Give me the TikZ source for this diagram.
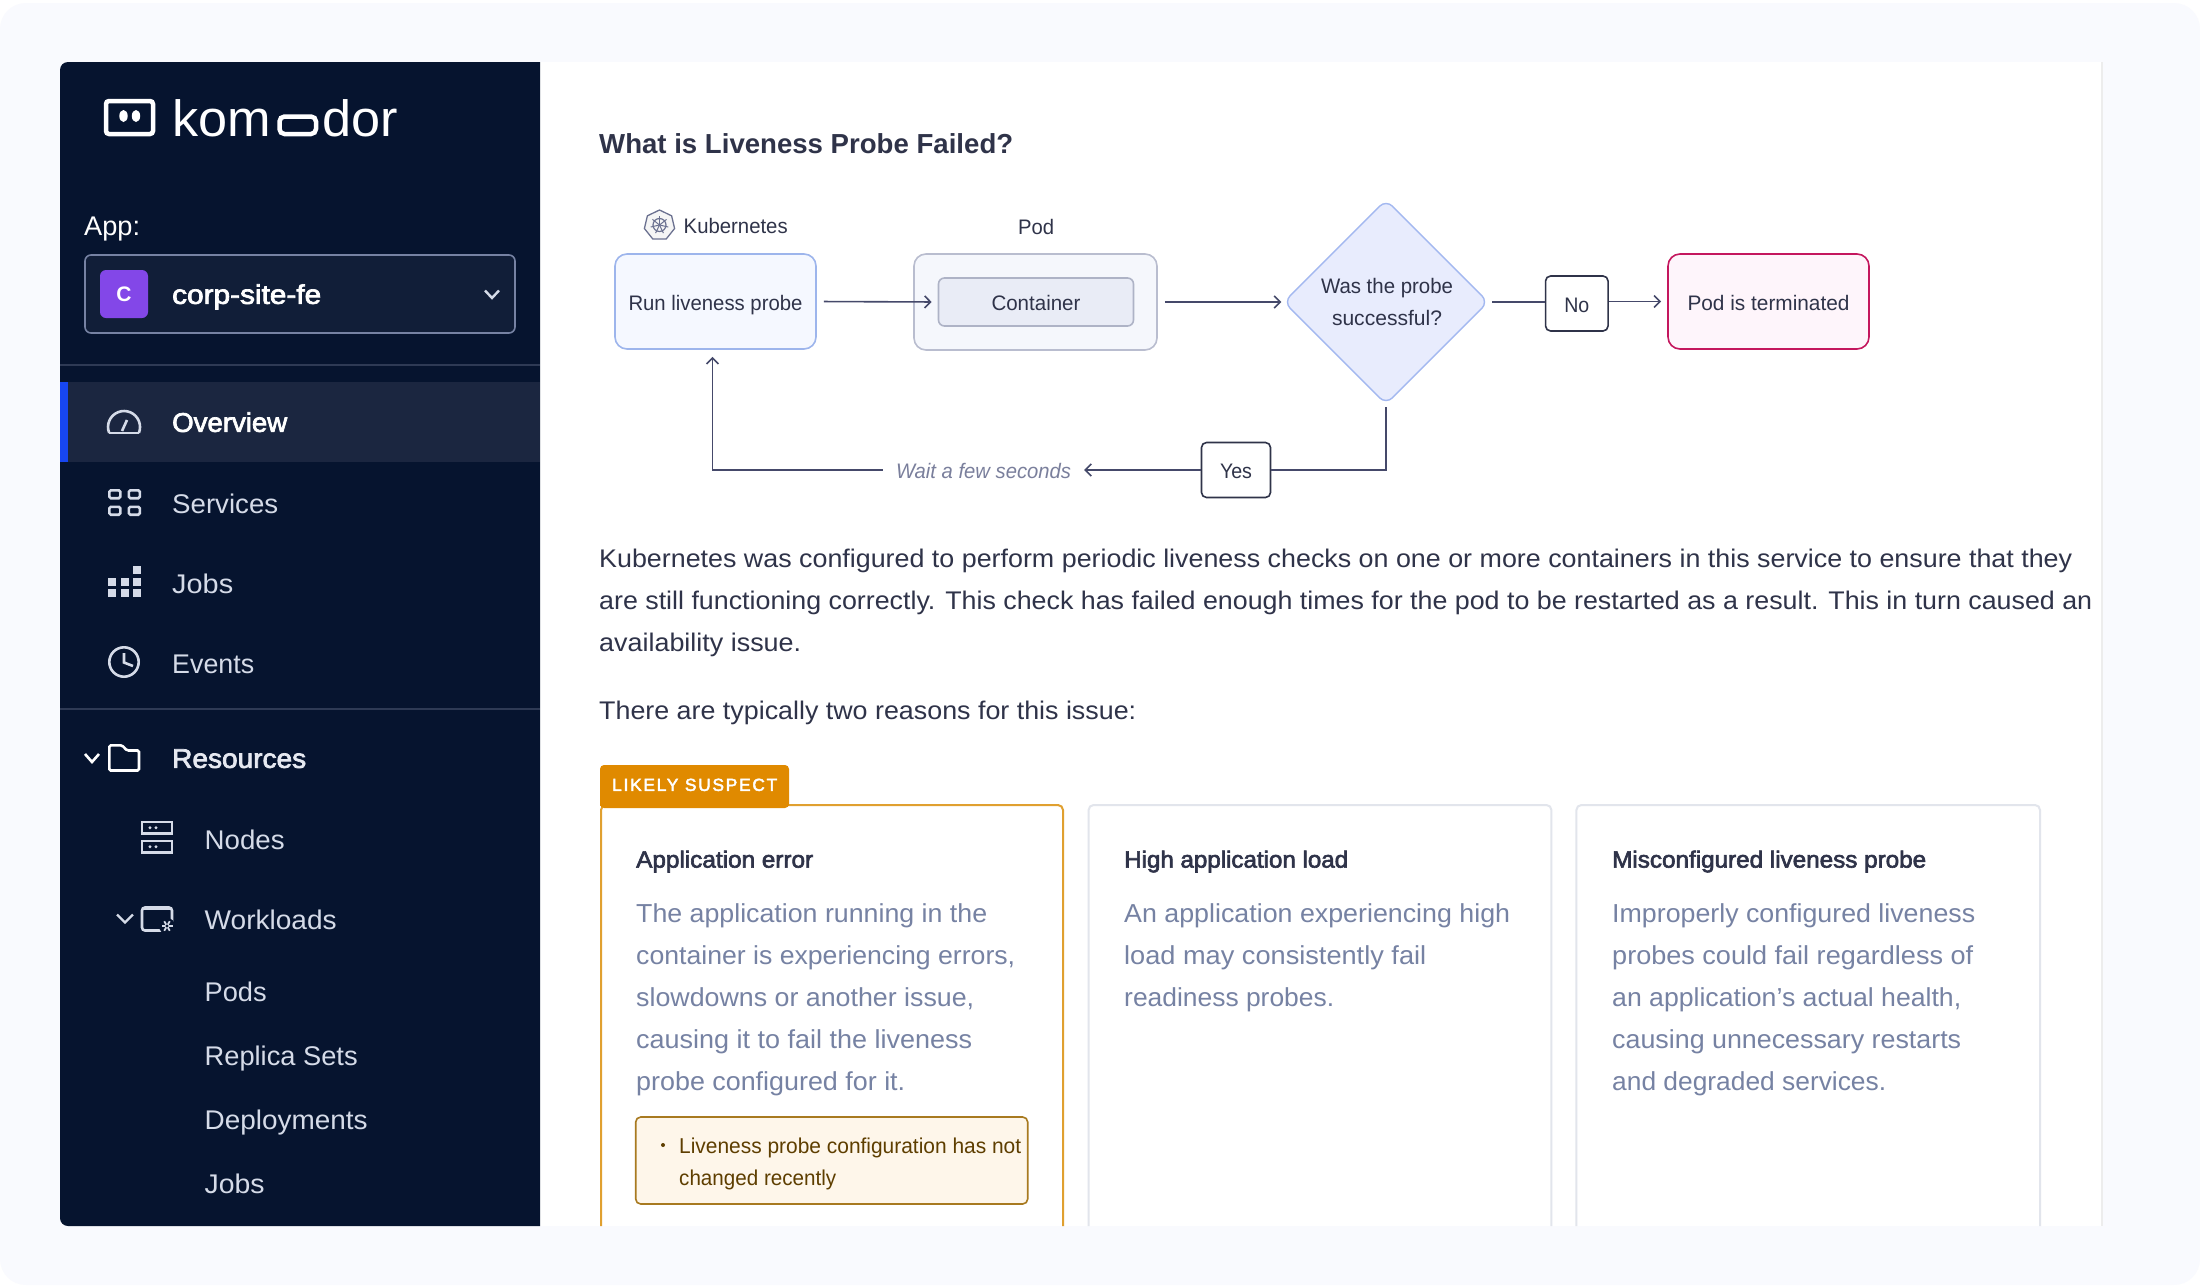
\documentclass[tikz,border=0pt]{standalone}
\usepackage{fontspec}
\usepackage{graphicx}
\setmainfont{Liberation Sans}
\newfontfamily\medium[FakeBold=2.6]{Liberation Sans}
\usetikzlibrary{arrows.meta,shapes.geometric}
\newcommand\fs[1]{\fontsize{#1}{#1}\selectfont}
\newcommand\st{\rule[-.22em]{0pt}{1.17em}}
\newcommand\fit[2]{\resizebox{#1pt}{\height}{\st #2}}
\newcommand\fitd[2]{\resizebox{#1pt}{\height}{\rule[-.22em]{0pt}{1.27em}#2}}
\definecolor{pagebg}{HTML}{F9FAFE}
\definecolor{side}{HTML}{06142F}
\definecolor{sideact}{HTML}{1B2640}
\definecolor{selbg}{HTML}{111E38}
\definecolor{sideline}{HTML}{2E3A55}
\definecolor{navtx}{HTML}{D5DBE8}
\definecolor{ink}{HTML}{2F3349}
\definecolor{line}{HTML}{45496A}
\definecolor{grey}{HTML}{7682A3}
\definecolor{amber}{HTML}{E08A00}
\definecolor{cborder}{HTML}{E0A030}
\definecolor{k8s}{HTML}{6B7190}
\definecolor{purplebadge}{HTML}{8347E8}
\definecolor{activebar}{HTML}{1746F0}
\definecolor{runbd}{HTML}{9DB5EC}
\definecolor{runbg}{HTML}{F5F8FF}
\definecolor{podbd}{HTML}{B9BDCF}
\definecolor{podbg}{HTML}{F5F7FC}
\definecolor{conbd}{HTML}{AEB3C6}
\definecolor{conbg}{HTML}{E9ECF6}
\definecolor{diabd}{HTML}{A3B8F0}
\definecolor{diabg}{HTML}{E8ECFD}
\definecolor{termbd}{HTML}{C4175E}
\definecolor{termbg}{HTML}{FEF5FB}
\definecolor{cardbd}{HTML}{E2E5EC}
\definecolor{notebd}{HTML}{A87A20}
\definecolor{notebg}{HTML}{FEF6EA}
\definecolor{notetx}{HTML}{5E3E00}
\definecolor{waittx}{HTML}{7A7F9C}
\tikzset{
  x=1pt,y=-1pt,
  tx/.style={inner sep=0,anchor=west},
  ctx/.style={inner sep=0,anchor=center},
  nav/.style={tx,text=navtx,font=\fs{27},yshift=-1.2pt},
  navb/.style={tx,text=white,font=\fs{27}\medium},
  icon/.style={draw=navtx,line width=2.6pt,fill=none},
  para/.style={tx,text=ink,font=\fs{25.5}},
  ctitle/.style={tx,text=ink,font=\fs{23.5}\medium},
  cbody/.style={tx,text=grey,font=\fs{26}},
  dlabel/.style={ctx,text=ink,font=\fs{21}},
  box/.style={draw,inner sep=0,rounded corners=12pt,line width=1.6pt,minimum width=201pt,minimum height=95pt,text=ink,font=\fs{21}},
  tagbox/.style={draw=ink,fill=white,inner sep=0,rounded corners=5pt,line width=1.6pt,text=ink,font=\fs{21}},
  conn/.style={draw=line,line width=1.6pt},
  arr/.style={conn,-{Straight Barb[length=6pt,width=12pt]}},
  card/.style={line width=2pt,rounded corners=5pt},
  notetext/.style={tx,text=notetx,font=\fs{21.5}},
}
\begin{document}
\begin{tikzpicture}
\useasboundingbox (0,0) rectangle (2200,1285);
\fill[white] (0,0) rectangle (2200,1285);
\fill[pagebg,rounded corners=26pt] (0,3) rectangle (2200,1285);
% main panel
\fill[white] (540,62) rectangle (2101,1226);
\fill[black!7] (2101,62) rectangle (2103,1226);
% sidebar
\fill[side] (540,62) -- (68,62) arc[start angle=90,end angle=180,radius=8pt] -- (60,1218) arc[start angle=180,end angle=270,radius=8pt] -- (540,1226) -- cycle;
% logo
\draw[white,line width=4.5pt,rounded corners=3pt] (106,101) rectangle (153,134);
\fill[white] (123.5,116) ellipse[x radius=4.2pt,y radius=6pt];
\fill[white] (136,116) ellipse[x radius=4.2pt,y radius=6pt];
\node[inner sep=0,anchor=base west,text=white,font=\fs{51}] (logo) at (172.5,136) {\resizebox{225pt}{\height}{kom{\color{side}\scalebox{1.75}[1]{o}}dor}};
\draw[white,line width=4.5pt,rounded corners=5pt] (279.5,116.5) rectangle (316,134);
% app selector
\node[tx,text=white,font=\fs{27}] (applabel) at (84,226) {\fit{56}{App:}};
\node[draw=grey,fill=selbg,line width=1.6pt,rounded corners=6pt,inner sep=0,minimum width=430pt,minimum height=78pt] (select) at (300,294) {};
\node[fill=purplebadge,rounded corners=6pt,inner sep=0,minimum width=48pt,minimum height=48pt,text=white,font=\fs{21}\bfseries] (cbadge) at (124,294) {C};
\node[tx,text=white,font=\fs{27}\medium] (corp) at (172,294) {\fit{149}{corp-site-fe}};
\draw[navtx,line width=2.4pt] (485,290.5) -- (492,298) -- (499,290.5);
\fill[sideline] (60,364) rectangle (540,366);
% overview row
\fill[sideact] (60,382) rectangle (540,462);
\fill[activebar] (60,382) rectangle (68,462);
\draw[icon] (109.2,433) arc[start angle=202,end angle=-22,radius=16pt];
\draw[navtx,line width=2.6pt] (109.2,433) -- (138.8,433);
\draw[navtx,line width=2.6pt] (122,431) -- (127,420);
\node[navb] (overview) at (172,422) {\fit{115}{Overview}};
% services
\foreach \xa/\ya in {108/489,127.5/489,108/505.5,127.5/505.5}{
  \draw[icon,rounded corners=1.5pt] (\xa+1.3,\ya+1.3) rectangle (\xa+12.3,\ya+9.2);}
\node[nav] (services) at (172,502) {\fit{106}{Services}};
% jobs
\foreach \xa/\ya in {133/566,108/577.5,121/577.5,133/577.5,108/589,121/589,133/589}{
  \fill[navtx] (\xa,\ya) rectangle (\xa+8,\ya+8);}
\node[nav] (jobsa) at (172,582) {\fit{61}{Jobs}};
% events
\draw[icon] (124,662) circle[radius=14.7pt];
\draw[navtx,line width=2.6pt] (124,653) -- (124,662.5) -- (133,666);
\node[nav] (events) at (172,662) {\fit{82}{Events}};
\fill[sideline] (60,708) rectangle (540,710);
% resources
\draw[white,line width=2.6pt] (85,754) -- (92,762) -- (99,754);
\draw[white,line width=2.6pt,rounded corners=1.5pt,fill=none] (109.3,770.5) -- (109.3,745.3) -- (122,745.3) -- (127,750.5) -- (139,750.5) -- (139,770.5) -- cycle;
\node[navb,text=navtx!60!white] (resources) at (172,758) {\fit{134}{Resources}};
% nodes
\foreach \ya in {822,841}{
  \draw[icon] (142,\ya) rectangle (172,\ya+11.5);
  \fill[navtx] (150,\ya+5.7) circle[radius=1.6pt] (156,\ya+5.7) circle[radius=1.6pt];}
\node[nav] (nodes) at (204.5,838) {\fit{80}{Nodes}};
% workloads
\draw[navtx,line width=2.4pt] (117,914.5) -- (125,922.5) -- (133,914.5);
\draw[icon,rounded corners=3pt] (142,907.5) rectangle (172,930.5);
\fill[navtx] (142,906.5) rectangle (172,910);
\fill[side] (167,926) circle[radius=8pt];
\foreach \a in {0,60,...,300}{\draw[navtx,line width=1.8pt] (167,926) -- ++(\a:5.5pt);}
\fill[side] (167,926) circle[radius=1.6pt];
\node[nav] (workloads) at (204.5,918) {\fit{132}{Workloads}};
\node[nav] (pods) at (204.5,990) {\fit{62}{Pods}};
\node[nav] (replica) at (204.5,1054) {\fit{153}{Replica Sets}};
\node[nav] (deploy) at (204.5,1118) {\fit{163}{Deployments}};
\node[nav] (jobsb) at (204.5,1182) {\fit{60}{Jobs}};
% title
\node[tx,text=ink,font=\fs{27.5}\bfseries] (title) at (599,143) {\fit{414}{What is Liveness Probe Failed?}};
% kubernetes label
\draw[k8s,line width=1.3pt,fill=black!4] (659.5,210) -- (671.6,215.8) -- (674.6,228.5) -- (666.2,239) -- (652.8,239) -- (644.4,228.5) -- (647.4,215.8) -- cycle;
\draw[k8s,line width=1.2pt] (659.5,225) circle[radius=6.5pt];
\foreach \a in {90,141.4,...,400}{\draw[k8s,line width=1pt] (659.5,225) -- ++(\a:9pt);}
\node[tx,text=ink,font=\fs{21}] (k8stext) at (683.5,226) {\fit{104}{Kubernetes}};
\node[dlabel] (podl) at (1036,226.5) {\fit{36}{Pod}};
% flowchart
\node[box,draw=runbd,fill=runbg] (run) at (715.5,301.5) {\fitd{174}{Run liveness probe}};
\node[box,draw=podbd,fill=podbg,minimum width=243pt,minimum height=96pt] (pod) at (1035.5,302) {};
\node[draw=conbd,fill=conbg,rounded corners=6pt,line width=1.6pt,inner sep=0,minimum width=195pt,minimum height=48pt,font=\fs{21},text=ink] (container) at (1036,302) {\fitd{89}{Container}};
\node[diamond,aspect=1,draw=diabd,fill=diabg,line width=1.4pt,rounded corners=9pt,inner sep=0,minimum width=205pt,minimum height=205pt] (decide) at (1386,302) {};
\node[dlabel] (decidea) at (1387,286) {\fit{132}{Was the probe}};
\node[dlabel] (decideb) at (1387,317) {\fitd{110}{successful?}};
\node[tagbox,minimum width=62.5pt,minimum height=55pt] (no) at (1576.8,303.5) {\fitd{25}{No}};
\node[box,draw=termbd,fill=termbg] (term) at (1768.5,301.5) {\fitd{162}{Pod is terminated}};
\node[tagbox,minimum width=69pt,minimum height=55pt] (yes) at (1236,470) {\fitd{32}{Yes}};
\node[ctx,text=waittx,font=\fs{21}\itshape] (wait) at (983.5,470) {\fitd{175}{Wait a few seconds}};
\draw[arr,shorten <=7pt,shorten >=6pt] (run.east) -- (container.west);
\draw[arr,shorten <=7pt,shorten >=1.5pt] (pod.east) -- (decide.west);
\draw[conn,shorten <=3pt] (decide.east) -- (no.west |- decide.east);
\draw[arr,shorten >=6pt] (no.east |- term.east) -- (term.west);
\draw[conn,shorten <=2pt] (decide.south) |- (yes.east);
\draw[arr,shorten >=13pt] (yes.west) -- (wait.east);
\draw[arr,shorten <=13pt,shorten >=7pt] (wait.west) -| ([xshift=-3pt]run.south);
% paragraph
\node[para] (pa) at (599,558) {\fit{1473}{Kubernetes was configured to perform periodic liveness checks on one or more containers in this service to ensure that they}};
\node[para] (pb) at (599,600) {\fit{1493}{are still functioning correctly. This check has failed enough times for the pod to be restarted as a result. This in turn caused an}};
\node[para] (pc) at (599,642) {\fit{202}{availability issue.}};
\node[para] (pd) at (599,710) {\fit{537}{There are typically two reasons for this issue:}};
% cards
\draw[card,draw=cardbd] (1088.6,1226) -- (1088.6,805) -- (1551.4,805) -- (1551.4,1226);
\draw[card,draw=cardbd] (1576.4,1226) -- (1576.4,805) -- (2040,805) -- (2040,1226);
\draw[card,draw=cborder] (601,1226) -- (601,805) -- (1063,805) -- (1063,1226);
\fill[amber,rounded corners=4pt] (600,808) -- (600,765) -- (789,765) -- (789,808) -- cycle;
\fill[amber] (600,798) rectangle (789,806);
\node[tx,text=white,font=\fs{17.5}\medium\addfontfeature{LetterSpace=10}] (tab) at (612,784.5) {\fit{165}{LIKELY SUSPECT}};
% card 1
\node[ctitle] (ca) at (636,859) {\fit{177}{Application error}};
\node[cbody] (ca1) at (636,913) {\fit{351}{The application running in the}};
\node[cbody] (ca2) at (636,955) {\fit{379}{container is experiencing errors,}};
\node[cbody] (ca3) at (636,997) {\fit{338}{slowdowns or another issue,}};
\node[cbody] (ca4) at (636,1039) {\fit{336}{causing it to fail the liveness}};
\node[cbody] (ca5) at (636,1081) {\fit{269}{probe configured for it.}};
\node[draw=notebd,fill=notebg,rounded corners=5pt,line width=1.6pt,inner sep=0,minimum width=392pt,minimum height=87pt] (note) at (831.7,1160.5) {};
\fill[notetx] (663,1145) circle[radius=2pt];
\node[notetext] (noa) at (679,1145) {\fitd{342}{Liveness probe configuration has not}};
\node[notetext] (nob) at (679,1177) {\fitd{157}{changed recently}};
% card 2
\node[ctitle] (cb) at (1124,859) {\fit{224}{High application load}};
\node[cbody] (cb1) at (1124,913) {\fit{386}{An application experiencing high}};
\node[cbody] (cb2) at (1124,955) {\fit{302}{load may consistently fail}};
\node[cbody] (cb3) at (1124,997) {\fit{210}{readiness probes.}};
% card 3
\node[ctitle] (cc) at (1612,859) {\fit{314}{Misconfigured liveness probe}};
\node[cbody] (cc1) at (1612,913) {\fit{363}{Improperly configured liveness}};
\node[cbody] (cc2) at (1612,955) {\fit{361}{probes could fail regardless of}};
\node[cbody] (cc3) at (1612,997) {\fit{349}{an application’s actual health,}};
\node[cbody] (cc4) at (1612,1039) {\fit{349}{causing unnecessary restarts}};
\node[cbody] (cc5) at (1612,1081) {\fit{274}{and degraded services.}};
\end{tikzpicture}
\end{document}
